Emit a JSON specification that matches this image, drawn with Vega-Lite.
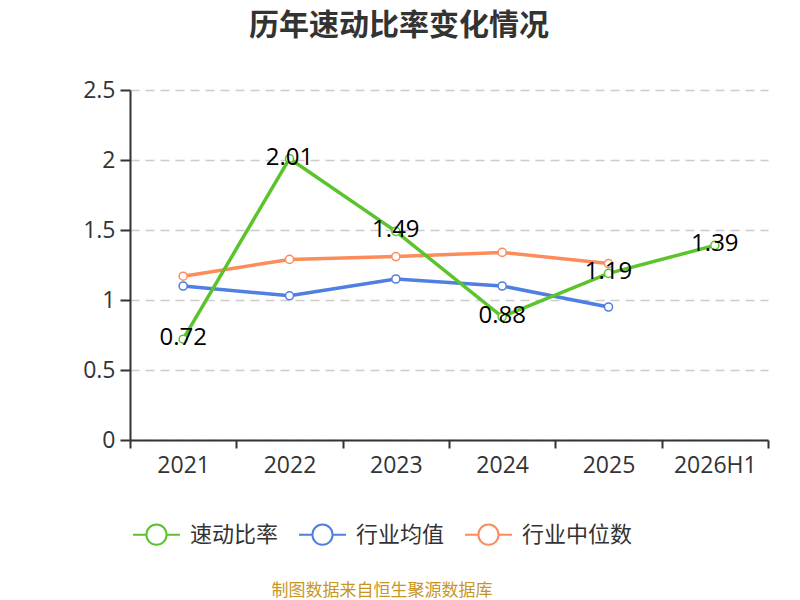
{
  "$schema": "https://vega.github.io/schema/vega-lite/v6.json",
  "width": 638,
  "height": 350,
  "autosize": {"type": "none"},
  "padding": {"left": 130, "top": 90, "right": 32, "bottom": 160},
  "background": "white",
  "title": {
    "text": "历年速动比率变化情况",
    "fontSize": 30,
    "fontWeight": "bold",
    "color": "#333333",
    "anchor": "middle",
    "frame": "group",
    "dx": -50,
    "offset": 38
  },
  "config": {
    "view": {"stroke": null},
    "font": "Noto Sans CJK SC"
  },
  "data": {
    "values": [
      {"year": "2021", "series": "行业均值", "value": 1.10},
      {"year": "2022", "series": "行业均值", "value": 1.03},
      {"year": "2023", "series": "行业均值", "value": 1.15},
      {"year": "2024", "series": "行业均值", "value": 1.10},
      {"year": "2025", "series": "行业均值", "value": 0.95},
      {"year": "2021", "series": "行业中位数", "value": 1.17},
      {"year": "2022", "series": "行业中位数", "value": 1.29},
      {"year": "2023", "series": "行业中位数", "value": 1.31},
      {"year": "2024", "series": "行业中位数", "value": 1.34},
      {"year": "2025", "series": "行业中位数", "value": 1.26},
      {"year": "2021", "series": "速动比率", "value": 0.72},
      {"year": "2022", "series": "速动比率", "value": 2.01},
      {"year": "2023", "series": "速动比率", "value": 1.49},
      {"year": "2024", "series": "速动比率", "value": 0.88},
      {"year": "2025", "series": "速动比率", "value": 1.19},
      {"year": "2026H1", "series": "速动比率", "value": 1.39}
    ]
  },
  "encoding": {
    "x": {
      "field": "year",
      "type": "nominal",
      "sort": ["2021", "2022", "2023", "2024", "2025", "2026H1"],
      "bandPosition": 0.5,
      "scale": {"type": "band", "paddingInner": 0, "paddingOuter": 0},
      "axis": {
        "title": null,
        "labelAngle": 0,
        "labelFont": "Open Sans",
        "labelFontSize": 23,
        "labelColor": "#333333",
        "domainColor": "#333333",
        "domainWidth": 2,
        "tickColor": "#333333",
        "tickWidth": 2,
        "tickBand": "extent",
        "tickSize": 8,
        "labelPadding": 6,
        "grid": false
      }
    },
    "y": {
      "field": "value",
      "type": "quantitative",
      "scale": {"domain": [0, 2.5]},
      "axis": {
        "title": null,
        "values": [0, 0.5, 1, 1.5, 2, 2.5],
        "format": "~g",
        "labelFont": "Open Sans",
        "labelFontSize": 23,
        "labelColor": "#333333",
        "domainColor": "#333333",
        "domainWidth": 2,
        "tickColor": "#333333",
        "tickWidth": 2,
        "tickSize": 10,
        "labelPadding": 5,
        "grid": true,
        "gridColor": "#cccccc",
        "gridDash": [9, 6],
        "gridWidth": 1.3
      }
    }
  },
  "layer": [
    {
      "mark": {"type": "line", "strokeWidth": 3.5},
      "encoding": {
        "color": {
          "field": "series",
          "type": "nominal",
          "scale": {
            "domain": ["速动比率", "行业均值", "行业中位数"],
            "range": ["#5bc42b", "#4f7fe1", "#fd8c5b"]
          },
          "legend": {
            "title": "制图数据来自恒生聚源数据库",
            "orient": "none",
            "legendX": 2,
            "legendY": 420,
            "direction": "horizontal",
            "titleOrient": "bottom",
            "titleAnchor": "middle",
            "titleColor": "#c8961e",
            "titleFontSize": 17,
            "titleFontWeight": "normal",
            "titlePadding": 34,
            "titleLimit": 1000,
            "labelFontSize": 22,
            "labelLimit": 300,
            "labelColor": "#333333",
            "symbolType": "M-1,0L-0.43,0M0.43,0L1,0M0.43,0A0.43,0.43,0,1,1,-0.43,0A0.43,0.43,0,1,1,0.43,0",
            "symbolSize": 2200,
            "symbolStrokeWidth": 2,
            "symbolFillColor": "white",
            "labelOffset": 9,
            "columnPadding": 16,
            "encode": {
              "symbols": {"update": {"fill": {"value": "white"}, "strokeWidth": {"value": 2}, "opacity": {"value": 1}}}
            }
          }
        }
      }
    },
    {
      "mark": {"type": "point", "shape": "circle", "filled": false, "fill": "white", "fillOpacity": 1, "opacity": 1, "strokeWidth": 1.5, "size": 65},
      "encoding": {
        "color": {"field": "series", "type": "nominal", "legend": null}
      }
    },
    {
      "transform": [{"filter": "datum.series === '速动比率'"}],
      "mark": {"type": "text", "font": "Open Sans", "fontSize": 24, "color": "black", "baseline": "middle", "dy": -1},
      "encoding": {
        "text": {"field": "value", "type": "quantitative", "format": ".2f"}
      }
    }
  ]
}
